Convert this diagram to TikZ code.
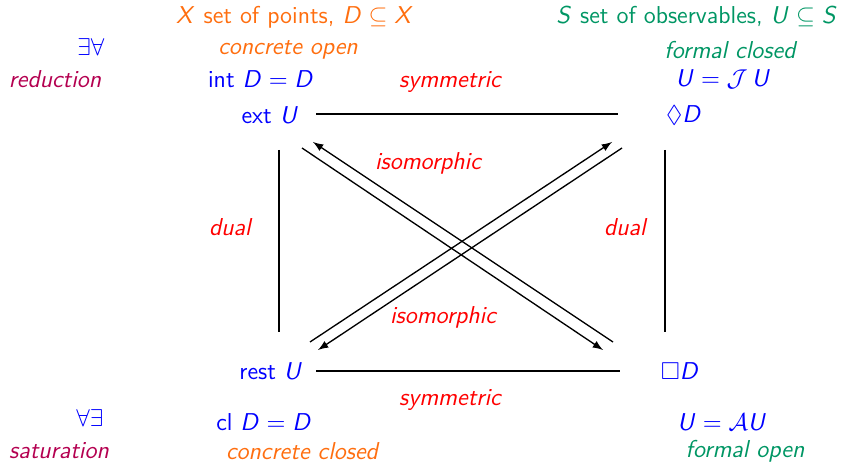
\documentclass[tikz,border=0pt]{standalone}
\usepackage{amssymb}
\usetikzlibrary{arrows,positioning}

% sans slanted letters in math
\DeclareSymbolFont{sfslanted}{OT1}{cmss}{m}{sl}
\DeclareMathSymbol{D}{\mathalpha}{sfslanted}{`D}
\DeclareMathSymbol{U}{\mathalpha}{sfslanted}{`U}
\DeclareMathSymbol{X}{\mathalpha}{sfslanted}{`X}
\DeclareMathSymbol{S}{\mathalpha}{sfslanted}{`S}

\definecolor{ptorange}{RGB}{255,110,15}
\definecolor{obsgreen}{RGB}{0,150,100}
\definecolor{quantpurple}{RGB}{180,0,80}
\newcommand\pfont{\sffamily\fontsize{11}{13}\selectfont}

\begin{document}
\begin{tikzpicture}[
    x=0.45pt, y=-0.45pt,
    font=\pfont,
    obj/.style={text=blue, inner sep=0pt},
    rel/.style={text=red, font=\pfont\itshape, inner sep=0pt},
    side/.style={text=ptorange, inner sep=0pt},
    formal/.style={text=obsgreen, inner sep=0pt},
    quant/.style={text=quantpurple, font=\pfont\itshape, inner sep=0pt},
    line/.style={line width=0.6pt},
    arrow/.style={line width=0.6pt,->,>=latex}
]
\useasboundingbox (0,0) rectangle (844,462);

% the four sets
\node [obj] (ext)  at (270,115) {ext $U$};
\node [obj] (dia)  at (684,115) {$\Diamond D$};
\node [obj] (rest) at (271,371) {rest $U$};
\node [obj] (box)  at (680,371) {$\Box D$};

% headings
\node [side]   (points) at (295,17) {$X$ set of points, $D\subseteq X$};
\node [formal] (observ) at (697,17) {$S$ set of observables, $U\subseteq S$};

% left side
\node [obj]  (ea)     at (91,47)  {$\exists\forall$};
\node [quant](reduct) at (55,79)  {reduction};
\node [side, font=\pfont\itshape] (copen) at (288,50) {concrete open};
\node [obj]  (intD)   at (261,79) {int $D = D$};
\node [obj]  (ae)     at (90,418) {$\forall\exists$};
\node [quant](satur)  at (59,451) {saturation};
\node [obj]  (clD)    at (264,422){cl $D = D$};
\node [side, font=\pfont\itshape] (cclosed) at (302,451) {concrete closed};

% right side
\node [formal, font=\pfont\itshape] (fclosed) at (730,50) {formal closed};
\node [obj] (JU) at (723,79) {$U = \mathcal{J}\,U$};
\node [obj] (AU) at (722,422) {$U = \mathcal{A}U$};
\node [formal, font=\pfont\itshape] (fopen) at (745,451) {formal open};

% relation labels
\node [rel] (symtop) at (450,82)  {symmetric};
\node [rel] (symbot) at (450,400) {symmetric};
\node [rel] (isotop) at (428,163) {isomorphic};
\node [rel] (isobot) at (443,317) {isomorphic};
\node [rel] (dualL)  at (230,227) {dual};
\node [rel] (dualR)  at (625,227) {dual};

% connectors
\draw [line] ([shift={(46,-1)}]ext.center) -- ([shift={(-66,-1)}]dia.center);
\draw [line] ([shift={(45,0)}]rest.center) -- ([shift={(-60,0)}]box.center);
\draw [line] ([shift={(9,35)}]ext.center) -- ([shift={(8,-39)}]rest.center);
\draw [line] ([shift={(-19,35)}]dia.center) -- ([shift={(-15,-39)}]box.center);

\draw [arrow] ([shift={(32,33)}]ext.center) -- ([shift={(-77,-21)}]box.center);
\draw [arrow] ([shift={(-67,-29)}]box.center) -- ([shift={(43,27)}]ext.center);
\draw [arrow] ([shift={(39,-29)}]rest.center) -- ([shift={(-72,27)}]dia.center);
\draw [arrow] ([shift={(-62,33)}]dia.center) -- ([shift={(47,-21)}]rest.center);
\end{tikzpicture}
\end{document}
